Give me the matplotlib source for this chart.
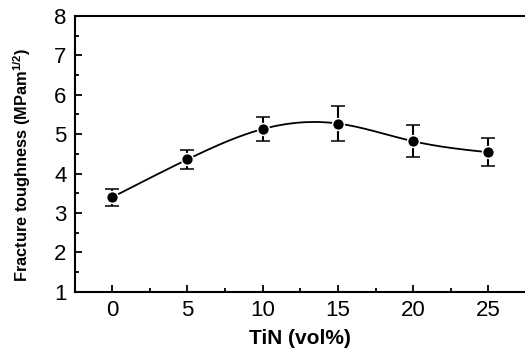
#!/usr/bin/env python3
"""Fracture toughness vs TiN content."""

import matplotlib
matplotlib.use("Agg")
import matplotlib.pyplot as plt
import numpy as np
from matplotlib.ticker import MultipleLocator

tin = [0, 5, 10, 15, 20, 25]
toughness = [3.40, 4.36, 5.13, 5.27, 4.82, 4.54]
err = [0.22, 0.25, 0.30, 0.45, 0.41, 0.35]


def natural_spline(x, y, xs):
    x = np.asarray(x, float)
    y = np.asarray(y, float)
    n = len(x)
    h = np.diff(x)
    A = np.zeros((n, n))
    b = np.zeros(n)
    A[0, 0] = A[-1, -1] = 1.0
    for i in range(1, n - 1):
        A[i, i - 1] = h[i - 1]
        A[i, i] = 2 * (h[i - 1] + h[i])
        A[i, i + 1] = h[i]
        b[i] = 6 * ((y[i + 1] - y[i]) / h[i] - (y[i] - y[i - 1]) / h[i - 1])
    m = np.linalg.solve(A, b)
    idx = np.clip(np.searchsorted(x, xs) - 1, 0, n - 2)
    x0, x1 = x[idx], x[idx + 1]
    hh = x1 - x0
    t0, t1 = x1 - xs, xs - x0
    return (m[idx] * t0**3 / (6 * hh) + m[idx + 1] * t1**3 / (6 * hh)
            + (y[idx] / hh - m[idx] * hh / 6) * t0
            + (y[idx + 1] / hh - m[idx + 1] * hh / 6) * t1)


plt.rcParams["font.family"] = ["Liberation Sans", "DejaVu Sans"]

fig = plt.figure(figsize=(5.25, 3.54), dpi=100)
ax = fig.add_axes([75 / 525, 1 - 291.7 / 354, 1 - 75 / 525, (291.7 - 16) / 354])

xs = np.linspace(tin[0], tin[-1], 300)
ax.plot(xs, natural_spline(tin, toughness, xs), color="black", lw=1.3, zorder=2)
ax.errorbar(tin, toughness, yerr=err, fmt="o", color="black", ms=8.5,
            mec="white", mew=1.1, ecolor="black", elinewidth=1.5,
            capsize=5, capthick=1.5, zorder=3)

ax.set_xlim(-2.48, 27.44)
ax.set_ylim(1, 8)
ax.xaxis.set_major_locator(MultipleLocator(5))
ax.xaxis.set_minor_locator(MultipleLocator(2.5))
ax.yaxis.set_major_locator(MultipleLocator(1))
ax.yaxis.set_minor_locator(MultipleLocator(0.5))
ax.tick_params(which="both", direction="in", top=False, right=False, width=1.3)
ax.tick_params(which="major", length=5, labelsize=16, pad=6)
ax.tick_params(which="minor", length=3)
for side in ("left", "bottom", "top"):
    ax.spines[side].set_linewidth(1.5)
ax.spines["right"].set_visible(False)

ax.set_xlabel("TiN (vol%)", fontsize=15, fontweight="bold", labelpad=6)
ax.set_ylabel("Fracture toughness (MPam$^{\\mathregular{1/2}}$)", fontsize=11.8,
              fontweight="bold")
ax.yaxis.set_label_coords(-0.093, 0.46)

fig.savefig("out.png", dpi=100)
